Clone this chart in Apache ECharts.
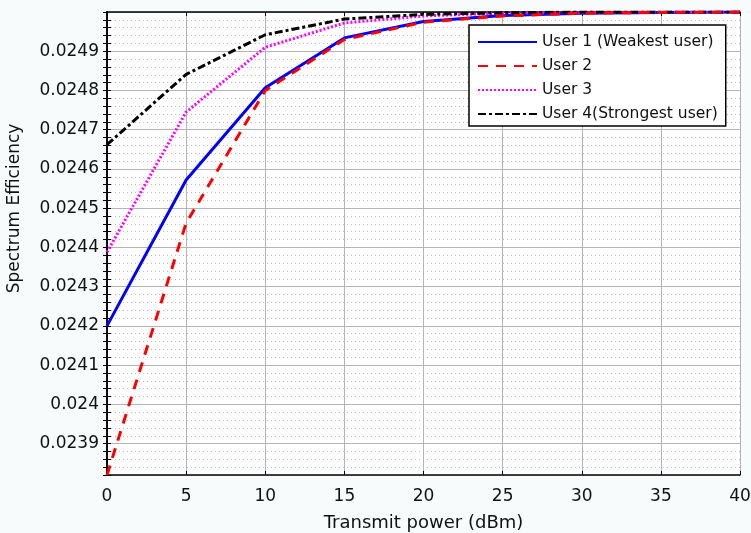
<!DOCTYPE html>
<html>
<head>
<meta charset="utf-8">
<script src="https://cdn.jsdelivr.net/npm/echarts@6/dist/echarts.min.js"></script>
<style>
  html, body { margin: 0; padding: 0; background: #f7fbfb; }
  #chart { width: 751px; height: 533px; }
</style>
</head>
<body>
<div id="chart"></div>
<script>
// transmit power (dBm)
var power = [0, 5, 10, 15, 20, 25, 30, 35, 40];
var user1 = [0.02420, 0.024572, 0.024807, 0.024934, 0.024976, 0.024991, 0.024997, 0.024999, 0.025];
var user2 = [0.02382, 0.024462, 0.024800, 0.024930, 0.024974, 0.024990, 0.024997, 0.024999, 0.025];
var user3 = [0.024388, 0.024745, 0.024910, 0.024972, 0.024990, 0.024997, 0.024999, 0.025, 0.025];
var user4 = [0.024662, 0.024841, 0.024942, 0.024982, 0.024994, 0.024998, 0.025, 0.025, 0.025];
var names = ["User 1 (Weakest user)", "User 2", "User 3", "User 4(Strongest user)"];

var yMin = 0.02382, yMax = 0.025, yStep = 0.00002;

function pairs(arr) {
  return power.map(function (p, i) { return [p, arr[i]]; });
}

var myChart = echarts.init(document.getElementById("chart"));
var font = "DejaVu Sans";

// major grid every 5th minor line (0.0239 is the 5th line from min)
var majorColors = ["rgba(0,0,0,0)", "rgba(0,0,0,0)", "rgba(0,0,0,0)", "rgba(0,0,0,0)", "#b4b4b4"];

myChart.setOption({
  backgroundColor: "#f7fbfb",
  animation: false,
  grid: {
    left: 107, right: 11, top: 12, bottom: 58,
    outerBoundsMode: "none",
    show: true, backgroundColor: "#ffffff", borderWidth: 0
  },
  legend: {
    data: names,
    orient: "vertical",
    left: 469, top: 25,
    itemWidth: 59, itemHeight: 14, itemGap: 8,
    padding: [9, 8, 4, 8],
    backgroundColor: "#ffffff",
    borderColor: "#000", borderWidth: 1.5,
    itemStyle: { opacity: 0 },
    textStyle: { fontFamily: font, fontSize: 15.5, color: "#111" }
  },
  xAxis: [
    {
      type: "value", min: 0, max: 40, interval: 5,
      name: "Transmit power (dBm)", nameLocation: "middle", nameGap: 39,
      nameTextStyle: { fontFamily: font, fontSize: 18, color: "#111" },
      axisLine: { lineStyle: { color: "#000", width: 1.5 } },
      axisTick: { inside: true, length: 4, lineStyle: { color: "#000" } },
      axisLabel: { fontFamily: font, fontSize: 17, color: "#111", margin: 13 },
      splitLine: { show: true, lineStyle: { color: "#b4b4b4", width: 1 } }
    },
    {
      type: "value", min: 0, max: 40, interval: 5, position: "top",
      axisLine: { lineStyle: { color: "#000", width: 1.5 } },
      axisTick: { inside: true, length: 4, lineStyle: { color: "#000" } },
      axisLabel: { show: false },
      splitLine: { show: false }
    }
  ],
  yAxis: [
    {
      type: "value", min: yMin, max: yMax, interval: yStep,
      name: "Spectrum Efficiency", nameLocation: "middle", nameGap: 84,
      nameTextStyle: { fontFamily: font, fontSize: 17, color: "#111", padding: [0, 0, 0, 70] },
      axisLine: { show: true, lineStyle: { color: "#000", width: 1.5 } },
      axisTick: { inside: true, length: 4, lineStyle: { color: "#000" } },
      axisLabel: {
        fontFamily: font, fontSize: 17, color: "#111", margin: 8,
        showMaxLabel: false,
        formatter: function (v) {
          var k = v * 1e4;
          if (v >= yMax || Math.abs(k - Math.round(k)) > 1e-6) return "";
          return parseFloat(v.toFixed(4)).toString();
        }
      },
      splitLine: { show: true, lineStyle: { color: "#bcbcbc", type: [1, 3], width: 1 } }
    },
    {
      type: "value", min: yMin, max: yMax, interval: yStep, position: "right",
      axisLine: { show: true, lineStyle: { color: "#000", width: 1.5 } },
      axisTick: { inside: true, length: 4, lineStyle: { color: "#000" } },
      axisLabel: { show: false },
      splitLine: { show: true, lineStyle: { color: majorColors, width: 1 } }
    }
  ],
  series: [
    {
      name: names[0], type: "line", symbol: "none", data: pairs(user1),
      lineStyle: { color: "#0000ff", width: 3, type: "solid" },
      itemStyle: { color: "#0000ff" }, z: 3
    },
    {
      name: names[1], type: "line", symbol: "none", data: pairs(user2),
      lineStyle: { color: "#ff0000", width: 3, type: [10, 8] },
      itemStyle: { color: "#ff0000" }, z: 4
    },
    {
      name: names[2], type: "line", symbol: "none", data: pairs(user3),
      lineStyle: { color: "#ff00ff", width: 3, type: [2, 2] },
      itemStyle: { color: "#ff00ff" }, z: 3
    },
    {
      name: names[3], type: "line", symbol: "none", data: pairs(user4),
      lineStyle: { color: "#000000", width: 3, type: [8, 3, 3, 3] },
      itemStyle: { color: "#000000" }, z: 3
    }
  ]
});
</script>
</body>
</html>
